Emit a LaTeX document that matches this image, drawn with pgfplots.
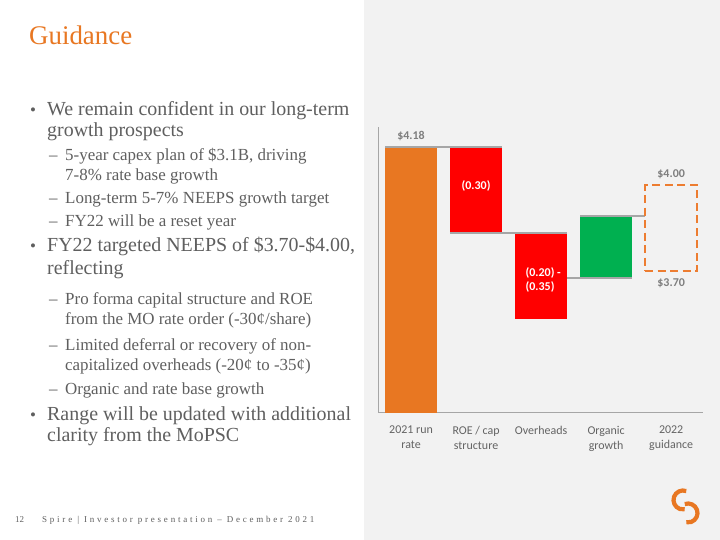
\documentclass[border=0pt]{standalone}
\usepackage{fontspec}
\setmainfont{Liberation Serif}
\newfontfamily\carlito{Carlito}
\newfontfamily\footfont[LetterSpace=31]{Liberation Serif}
\usepackage{pgfplots}
\pgfplotsset{compat=1.18}
\definecolor{spireorange}{RGB}{232,119,34}
\definecolor{boxorange}{RGB}{237,125,49}
\definecolor{bargreen}{RGB}{0,176,80}
\definecolor{barred}{RGB}{255,0,0}
\definecolor{txtgray}{RGB}{95,95,95}
\definecolor{panel}{RGB}{242,242,242}
\definecolor{conngray}{RGB}{166,166,166}
\definecolor{lblgray}{RGB}{127,127,127}
\definecolor{tickgray}{RGB}{100,100,100}
\newcommand\mainline[2]{\node[anchor=base west, inner sep=0, text=txtgray, font=\fontsize{20}{24}\selectfont] at (47,540-#1) {#2};}
\newcommand\mainbullet[1]{\node[anchor=base west, inner sep=0, text=txtgray, font=\fontsize{17}{20}\selectfont] at (30,540-#1) {•};}
\newcommand\subline[2]{\node[anchor=base west, inner sep=0, text=txtgray, font=\fontsize{17}{20}\selectfont] at (65,540-#1) {#2};}
\newcommand\subdash[1]{\node[anchor=base west, inner sep=0, text=txtgray, font=\fontsize{17}{20}\selectfont] at (49,540-#1) {–};}
\begin{document}
\begin{tikzpicture}[x=1bp,y=1bp]
\fill[white] (0,0) rectangle (720,540);
\fill[panel] (364,0) rectangle (720,540);
% title
\node[anchor=base west, inner sep=0, text=spireorange, font=\fontsize{27}{32}\selectfont] at (29,540-45) {Guidance};
% bullets
\mainbullet{116}\mainline{116}{We remain confident in our long-term}
\mainline{137}{growth prospects}
\subdash{161}\subline{161}{5-year capex plan of \$3.1B, driving}
\subline{181}{7-8\% rate base growth}
\subdash{204}\subline{204}{Long-term 5-7\% NEEPS growth target}
\subdash{227}\subline{227}{FY22 will be a reset year}
\mainbullet{252}\mainline{252}{FY22 targeted NEEPS of \$3.70-\$4.00,}
\mainline{275}{reflecting}
\subdash{305}\subline{305}{Pro forma capital structure and ROE}
\subline{325}{from the MO rate order (-30¢/share)}
\subdash{351}\subline{351}{Limited deferral or recovery of non-}
\subline{371}{capitalized overheads (-20¢ to -35¢)}
\subdash{395}\subline{395}{Organic and rate base growth}
\mainbullet{421}\mainline{421}{Range will be updated with additional}
\mainline{442}{clarity from the MoPSC}
% footer
\node[anchor=base west, inner sep=0, text=txtgray, font=\fontsize{9}{11}\selectfont] at (15,540-522.5) {12};
\node[anchor=base west, inner sep=0, text=txtgray, font=\footfont\fontsize{9}{11}\selectfont] at (42,540-522.5) {Spire | Investor presentation – December 2021};
% logo
\draw[spireorange, line width=4.2bp] (683,540-500) ++(70:9.5) arc[start angle=70, end angle=280, radius=9.5];
\draw[spireorange, line width=4.2bp] (688,540-513) ++(110:9.5) arc[start angle=110, end angle=-100, radius=9.5];
% chart
\begin{axis}[
  at={(378bp,127bp)}, anchor=south west,
  scale only axis, width=325bp, height=286bp,
  xmin=-0.508, xmax=4.49, ymin=3.252, ymax=4.25,
  axis x line=bottom, axis y line=left,
  axis line style={-, draw=conngray, line width=1bp},
  ytick=\empty, xtick={0,1,2,3,4},
  xticklabels={2021 run\\rate, ROE / cap\\structure, Overheads, Organic\\growth, 2022\\guidance},
  major tick length=0pt,
  xticklabel style={font=\carlito\fontsize{12}{15}\selectfont, align=center, text=tickgray, yshift=-9.5bp},
  clip=false,
]
% bars (x range, bottom, top)
\addplot[fill=spireorange, draw=none] coordinates {(-0.4,3.252) (0.4,3.252) (0.4,4.18) (-0.4,4.18)};
\addplot[fill=barred, draw=none] coordinates {(0.6,3.88) (1.4,3.88) (1.4,4.18) (0.6,4.18)};
\addplot[fill=barred, draw=none] coordinates {(1.6,3.58) (2.4,3.58) (2.4,3.88) (1.6,3.88)};
\addplot[fill=bargreen, draw=none] coordinates {(2.6,3.723) (3.4,3.723) (3.4,3.939) (2.6,3.939)};
% connectors
\addplot[conngray, line width=1.5bp] coordinates {(-0.4,4.18) (1.4,4.18)};
\addplot[conngray, line width=1.5bp] coordinates {(0.6,3.88) (2.4,3.88)};
\addplot[conngray, line width=1.5bp] coordinates {(2.4,3.723) (3.4,3.723)};
\addplot[conngray, line width=1.5bp] coordinates {(2.6,3.939) (3.6,3.939)};
% guidance range box
\addplot[boxorange, line width=2bp, dash pattern=on 8bp off 4.5bp] coordinates {(3.6,3.747) (4.4,3.747) (4.4,4.047) (3.6,4.047) (3.6,3.747)};
% labels
\node[font=\carlito\bfseries\fontsize{12}{14}\selectfont, text=lblgray] at (axis cs:0,4.218) {\$4.18};
\node[font=\carlito\bfseries\fontsize{12}{14}\selectfont, text=white] at (axis cs:1,4.044) {(0.30)};
\node[font=\carlito\bfseries\fontsize{12}{14}\selectfont, text=white, align=left, anchor=west, inner sep=0] at (axis cs:1.76,3.716) {(0.20) -\\(0.35)};
\node[font=\carlito\bfseries\fontsize{12}{14}\selectfont, text=lblgray] at (axis cs:4,4.086) {\$4.00};
\node[font=\carlito\bfseries\fontsize{12}{14}\selectfont, text=lblgray] at (axis cs:4,3.706) {\$3.70};
\end{axis}
\end{tikzpicture}
\end{document}
